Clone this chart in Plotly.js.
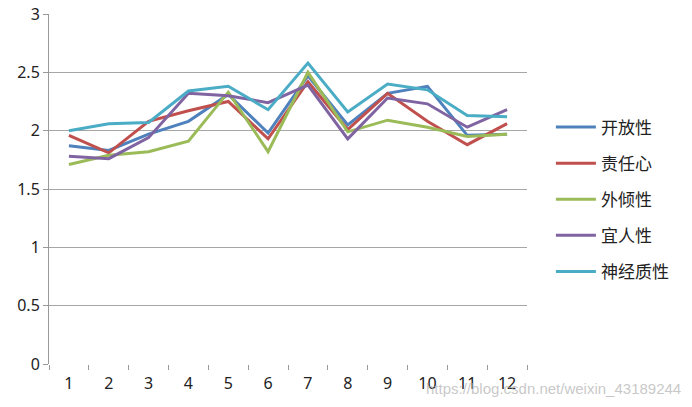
<!DOCTYPE html>
<html>
<head>
<meta charset="utf-8">
<script src="https://cdn.plot.ly/plotly-3.0.1.min.js"></script>
<style>html,body{margin:0;padding:0;background:#fff;}#chart{width:692px;height:407px;}</style>
</head>
<body>
<div id="chart"></div>
<script>
const categories = ['1','2','3','4','5','6','7','8','9','10','11','12'];
const seriesNames = ['开放性','责任心','外倾性','宜人性','神经质性'];
const openness      = [1.87,1.83,1.97,2.08,2.31,1.98,2.47,2.05,2.32,2.38,1.96,1.97];
const conscientious = [1.96,1.81,2.08,2.17,2.25,1.93,2.42,2.01,2.32,2.08,1.88,2.06];
const extraversion  = [1.71,1.79,1.82,1.91,2.33,1.82,2.50,1.99,2.09,2.03,1.95,1.97];
const agreeable     = [1.78,1.76,1.94,2.32,2.30,2.24,2.39,1.93,2.28,2.23,2.03,2.18];
const neuroticism   = [2.00,2.06,2.07,2.34,2.38,2.18,2.58,2.16,2.40,2.35,2.13,2.12];
const seriesValues = [openness, conscientious, extraversion, agreeable, neuroticism];
const colors = ['#4F81BD','#C0504D','#9BBB59','#8064A2','#4BACC6'];
const yTicks = [0,0.5,1,1.5,2,2.5,3];
const yTickText = ['0','0.5','1','1.5','2','2.5','3'];

const traces = seriesValues.map((vals,i)=>({
  x: categories, y: vals, type:'scatter', mode:'lines', name: seriesNames[i],
  legendgroup: 'g'+i,
  line:{color:colors[i], width:3}
}));

const layout = {
  width:692, height:407,
  margin:{l:49, r:165, t:14, b:43},
  paper_bgcolor:'#fff', plot_bgcolor:'#fff',
  font:{family:'"Noto Sans", "Noto Sans CJK SC", sans-serif', color:'#222'},
  showlegend:true,
  legend:{x:1.05, xanchor:'left', y:0.47, yanchor:'middle', tracegroupgap:11, itemwidth:40,
    font:{size:17, family:'"Noto Sans CJK SC", sans-serif', color:'#222'}, bgcolor:'rgba(0,0,0,0)'},
  xaxis:{type:'category', range:[-0.5, 11.5], tickson:'boundaries', ticks:'outside', ticklen:5, tickcolor:'#999',
    ticklabelstandoff:8,
    showgrid:false, showline:false, zeroline:false, tickfont:{size:16}, fixedrange:true},
  yaxis:{range:[0,3], tickvals:yTicks, ticktext:yTickText, ticks:'outside', ticklen:5, tickcolor:'#999',
    showgrid:true, gridcolor:'#a6a6a6', gridwidth:1, showline:true, linecolor:'#999', linewidth:1,
    zeroline:false, tickfont:{size:16}, fixedrange:true},
  annotations:[{xref:'paper', yref:'paper', x:1.326, y:-0.069, xanchor:'right', yanchor:'middle',
    text:'https://blog.csdn.net/weixin_43189244', showarrow:false,
    font:{size:15, color:'rgba(175,175,175,0.7)', family:'"Liberation Sans", Arial, sans-serif'}}]
};
Plotly.newPlot('chart', traces, layout, {displayModeBar:false, staticPlot:true});
</script>
</body>
</html>
